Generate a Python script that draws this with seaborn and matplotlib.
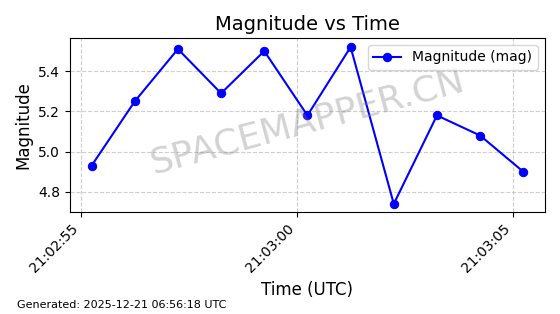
import matplotlib
matplotlib.use("Agg")
import matplotlib.pyplot as plt
import matplotlib.dates as mdates
import seaborn as sns
import pandas as pd
import numpy as np

times = ["2025-12-21 21:02:55.25", "2025-12-21 21:02:56.25", "2025-12-21 21:02:57.25",
         "2025-12-21 21:02:58.25", "2025-12-21 21:02:59.25", "2025-12-21 21:03:00.25",
         "2025-12-21 21:03:01.25", "2025-12-21 21:03:02.25", "2025-12-21 21:03:03.25",
         "2025-12-21 21:03:04.25", "2025-12-21 21:03:05.25"]
magnitude = [4.93, 5.25, 5.51, 5.29, 5.50, 5.18, 5.52, 4.74, 5.18, 5.08, 4.90]
yticks = [4.8, 5.0, 5.2, 5.4]

df = pd.DataFrame({"time": pd.to_datetime(times), "mag": magnitude})

fig, ax = plt.subplots(figsize=(5.6, 3.14), dpi=100)
fig.subplots_adjust(left=0.125, right=0.973, top=0.879, bottom=0.325)

sns.lineplot(data=df, x="time", y="mag", ax=ax, color="blue", marker="o",
             markersize=6, markeredgecolor="blue", linewidth=1.5,
             label="Magnitude (mag)")

ax.set_title("Magnitude vs Time", fontsize=14)
ax.set_xlabel("Time (UTC)", fontsize=12)
ax.set_ylabel("Magnitude", fontsize=12)
ax.set_yticks(yticks)
ax.set_ylim(4.70, 5.565)
ax.set_xlim(pd.Timestamp("2025-12-21 21:02:54.75"), pd.Timestamp("2025-12-21 21:03:05.75"))
ax.xaxis.set_major_locator(mdates.SecondLocator(bysecond=[0, 5, 10, 15, 20, 25, 30, 35, 40, 45, 50, 55]))
ax.xaxis.set_major_formatter(mdates.DateFormatter("%H:%M:%S"))
plt.setp(ax.get_xticklabels(), rotation=45, ha="right")
ax.grid(True, linestyle="--", alpha=0.6)
ax.legend(loc="upper right")

ax.text(0.5, 0.52, "SPACEMAPPER.CN", transform=ax.transAxes, fontsize=26,
        color="gray", alpha=0.35, rotation=15, ha="center", va="center")

fig.text(0.03, 0.02, "Generated: 2025-12-21 06:56:18 UTC", fontsize=8)

fig.savefig("out.png", dpi=100)
